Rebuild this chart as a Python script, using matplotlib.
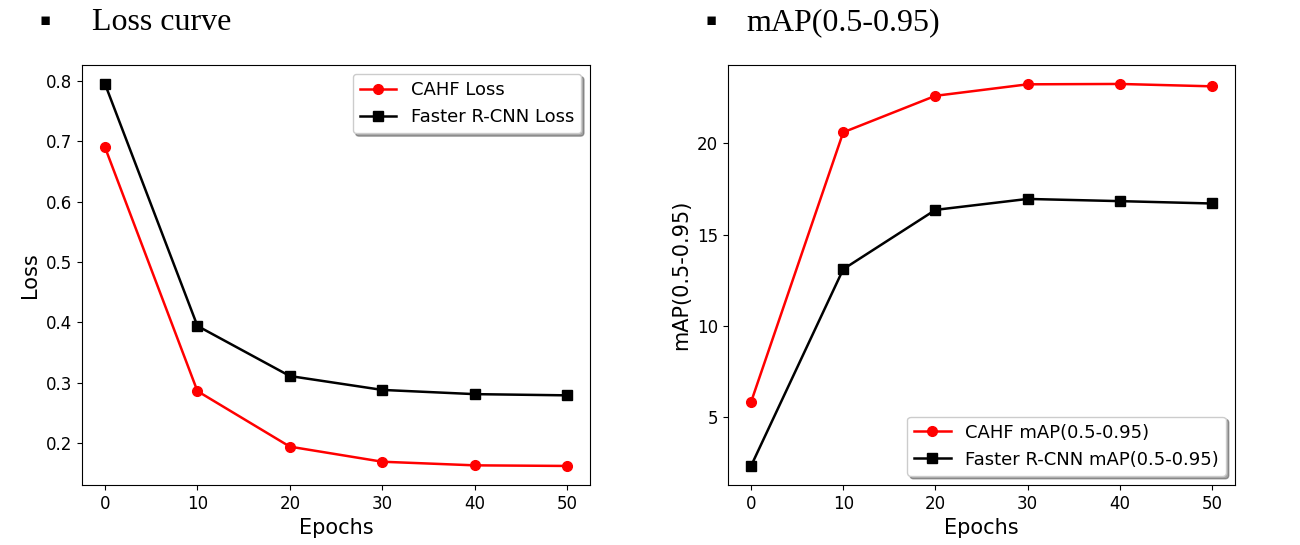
import matplotlib.pyplot as plt

epochs = [0, 10, 20, 30, 40, 50]

cahf_loss = [0.69, 0.286, 0.194, 0.169, 0.163, 0.162]
frcnn_loss = [0.795, 0.394, 0.311, 0.288, 0.281, 0.279]

cahf_map = [5.82, 20.6, 22.6, 23.23, 23.25, 23.12]
frcnn_map = [2.32, 13.1, 16.35, 16.95, 16.83, 16.7]

fig = plt.figure(figsize=(13, 5.45), dpi=100)

ax1 = fig.add_axes([0.063, 0.11, 0.391, 0.771])
ax2 = fig.add_axes([0.56, 0.11, 0.39, 0.771])

# left panel: loss
ax1.plot(epochs, cahf_loss, color='red', marker='o', markersize=7, linewidth=1.8, label='CAHF Loss')
ax1.plot(epochs, frcnn_loss, color='black', marker='s', markersize=7, linewidth=1.8, label='Faster R-CNN Loss')
ax1.set_xlabel('Epochs', fontsize=15)
ax1.set_ylabel('Loss', fontsize=15)
ax1.set_xticks(epochs)
ax1.tick_params(labelsize=12)
ax1.legend(loc='upper right', fontsize=13, shadow=True)

# right panel: mAP
ax2.plot(epochs, cahf_map, color='red', marker='o', markersize=7, linewidth=1.8, label='CAHF mAP(0.5-0.95)')
ax2.plot(epochs, frcnn_map, color='black', marker='s', markersize=7, linewidth=1.8, label='Faster R-CNN mAP(0.5-0.95)')
ax2.set_xlabel('Epochs', fontsize=15)
ax2.set_ylabel('mAP(0.5-0.95)', fontsize=15)
ax2.set_xticks(epochs)
ax2.set_yticks([5, 10, 15, 20])
ax2.tick_params(labelsize=12)
ax2.legend(loc='lower right', fontsize=13, shadow=True)

# headings above the panels
fig.text(0.0305, 0.963, '\u25aa', fontsize=12, family='DejaVu Sans', va='center')
fig.text(0.071, 0.958, 'Loss curve', fontsize=23, family='Liberation Serif', va='center')
fig.text(0.5425, 0.963, '\u25aa', fontsize=12, family='DejaVu Sans', va='center')
fig.text(0.574, 0.958, 'mAP(0.5-0.95)', fontsize=23, family='Liberation Serif', va='center')

plt.savefig('out.png')
